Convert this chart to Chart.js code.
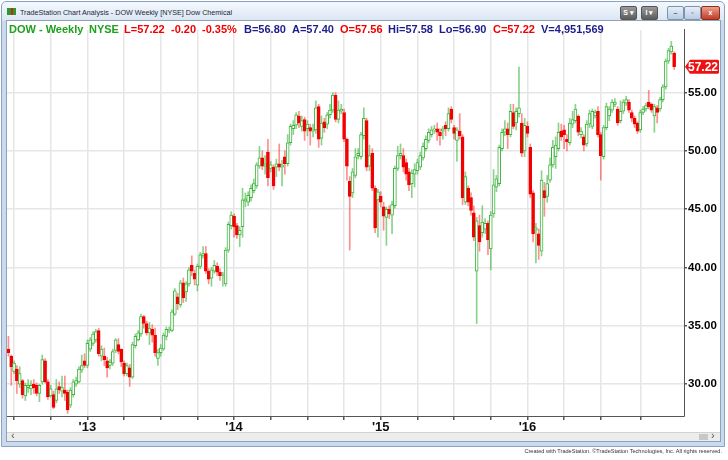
<!DOCTYPE html>
<html>
<head>
<meta charset="utf-8">
<script src="https://cdn.jsdelivr.net/npm/chart.js@4.4.1/dist/chart.umd.min.js"></script>
<style>
  html, body { margin: 0; padding: 0; background: #fff; }
  body { width: 728px; height: 460px; position: relative; overflow: hidden; font-family: "Liberation Sans", Arial, sans-serif; }
  #frame { position: absolute; left: 1px; top: 1px; width: 722px; height: 444px; border: 1px solid #8ba3c1; border-radius: 5px 5px 0 0;
           background: linear-gradient(#f4f8fd 0px, #dce7f4 18px, #c9daee 19px, #c9daee 100%); }
  #icon { position: absolute; left: 7px; top: 8px; width: 9px; height: 7px; background: linear-gradient(90deg, #2a9a2a 0 40%, #d02020 40% 70%, #2a9a2a 70%); }
  #title { position: absolute; left: 20px; top: 8px; font-size: 7.2px; color: #1b2636; white-space: nowrap; }
  .btn { position: absolute; top: 6px; height: 12px; border-radius: 2px; font-size: 7px; font-weight: bold; color: #fff; text-align: center; line-height: 12px; }
  .dark { background: linear-gradient(#9a9a9a, #5c5c5c); border: 1px solid #555; width: 15px; }
  .win { background: linear-gradient(#e6eef8, #b9cce3); border: 1px solid #7d93b0; width: 15px; color: #4a5a70; }
  .close { background: linear-gradient(#eba08f, #c43b25); border: 1px solid #8a3020; width: 17px; }
  #panel { position: absolute; left: 6px; top: 20px; width: 715px; height: 422px; background: #fff; border: 1px solid #8fa2b8; box-sizing: border-box; }
  #chartBox { position: absolute; left: 7px; top: 22px; width: 713px; height: 410px; }
  #header { position: absolute; top: 23px; left: 0; height: 13px; font-size: 11px; font-weight: bold; line-height: 13px; white-space: nowrap; }
  #header span { position: absolute; top: 0; }
  .g { color: #1fa01f; }
  .r { color: #f00000; }
  .n { color: #1c1c8c; }
  #scroll { position: absolute; left: 7px; top: 432px; width: 713px; height: 9px; background: #ececec; border-top: 1px solid #d2d2d2; box-sizing: border-box; }
  #scroll .arrow { position: absolute; top: -4px; font-size: 11px; color: #555; }
  #scroll .thumb { position: absolute; left: 692px; top: 1px; width: 9px; height: 6px; background: #c8c8c8; }
  #footer { position: absolute; right: 6px; top: 448px; font-size: 5.6px; color: #333; white-space: nowrap; }
</style>
</head>
<body>
<div id="frame"></div>
<div id="icon"></div>
<div id="title">TradeStation Chart Analysis - DOW Weekly [NYSE] Dow Chemical</div>
<div class="btn dark" style="left:620px">S ▾</div>
<div class="btn dark" style="left:641px">I ▾</div>
<div class="btn win" style="left:667px">–</div>
<div class="btn win" style="left:684px">▫</div>
<div class="btn close" style="left:701px">x</div>
<div id="panel"></div>
<div id="chartBox"><canvas id="candles"></canvas></div>
<div id="header">
  <span class="g" style="left:9px">DOW - Weekly</span>
  <span class="g" style="left:89px">NYSE</span>
  <span class="r" style="left:124px">L=57.22</span>
  <span class="r" style="left:171px">-0.20</span>
  <span class="r" style="left:202px">-0.35%</span>
  <span class="n" style="left:244px">B=56.80</span>
  <span class="n" style="left:292px">A=57.40</span>
  <span class="r" style="left:340px">O=57.56</span>
  <span class="n" style="left:388px">Hi=57.58</span>
  <span class="n" style="left:439px">Lo=56.90</span>
  <span class="r" style="left:493px">C=57.22</span>
  <span class="n" style="left:541px">V=4,951,569</span>
</div>
<div id="scroll"><span class="arrow" style="left:4px">‹</span><span class="thumb"></span><span class="arrow" style="left:704px">›</span></div>
<div id="footer">Created with TradeStation. ©TradeStation Technologies, Inc. All rights reserved.</div>

<script>
// weekly bars, first one is the week ending 22 Jun 2012
const open = [
  33.0, 32.4, 31.1, 31.3, 30.0, 30.3, 29.0, 29.7, 29.6, 30.0,
  29.9, 29.2, 30.2, 32.0, 30.2, 29.0, 29.1, 28.6, 29.8, 29.4,
  29.5, 29.3, 28.2, 29.1, 30.0, 30.2, 31.2, 32.0, 31.6, 33.0,
  33.5, 33.8, 34.6, 32.4, 32.4, 32.0, 31.6, 31.8, 32.9, 33.4,
  33.0, 31.8, 30.9, 31.4, 30.6, 33.3, 33.8, 34.3, 35.8, 35.2,
  34.4, 34.7, 34.2, 32.2, 32.7, 33.0, 34.1, 34.6, 34.6, 36.0,
  37.5, 36.8, 38.7, 37.9, 38.6, 40.2, 39.5, 38.5, 40.1, 41.0,
  41.2, 39.7, 39.1, 39.7, 40.1, 39.6, 39.3, 38.6, 41.5, 43.6,
  44.4, 43.6, 42.8, 43.5, 45.7, 45.6, 46.0, 46.6, 47.0, 48.7,
  49.4, 48.7, 49.9, 48.5, 48.6, 48.6, 48.9, 48.6, 49.5, 48.9,
  50.7, 51.9, 52.2, 53.0, 52.1, 52.7, 51.9, 52.0, 51.7, 51.8,
  53.8, 51.1, 52.5, 52.3, 53.1, 53.5, 54.8, 52.7, 53.4, 53.3,
  51.0, 47.4, 46.4, 47.9, 49.6, 49.5, 51.3, 52.6, 48.7, 49.8,
  46.8, 45.8, 46.1, 45.2, 44.3, 45.0, 44.5, 45.3, 48.5, 49.6,
  49.6, 49.0, 48.2, 47.2, 48.0, 48.3, 48.6, 49.4, 50.2, 50.9,
  51.4, 51.8, 51.9, 51.6, 51.7, 52.2, 51.9, 53.6, 52.0, 50.9,
  51.7, 51.2, 45.6, 46.8, 46.0, 44.7, 39.7, 43.6, 43.0, 43.3,
  43.8, 41.6, 44.6, 46.9, 47.2, 50.2, 51.6, 51.9, 51.4, 53.3,
  52.4, 53.2, 52.4, 50.0, 52.1, 50.3, 46.4, 43.2, 42.9, 41.4,
  46.6, 46.1, 47.5, 48.8, 49.5, 50.2, 51.7, 51.8, 51.0, 50.7,
  52.3, 52.6, 53.0, 51.4, 51.2, 50.6, 52.3, 52.1, 53.0, 53.4,
  51.4, 49.5, 52.0, 53.0, 53.5, 54.0, 53.6, 52.6, 53.4, 54.1,
  54.2, 53.3, 52.8, 52.4, 51.8, 53.3, 53.6, 54.2, 54.0, 53.0,
  53.7, 53.6, 54.4, 55.5, 57.7, 58.5, 58.4
];
const high = [
  34.1, 32.5, 32.0, 31.6, 31.5, 30.4, 30.1, 30.4, 30.3, 30.4,
  30.1, 30.0, 32.5, 32.2, 30.4, 29.9, 29.4, 30.4, 30.2, 30.7,
  30.7, 29.5, 29.7, 30.4, 30.6, 31.5, 32.5, 32.6, 33.8, 34.0,
  34.5, 34.7, 34.8, 33.3, 33.1, 32.3, 32.1, 33.0, 33.9, 33.9,
  33.0, 32.0, 31.8, 31.7, 33.6, 34.3, 34.6, 36.0, 35.9, 35.4,
  35.3, 35.1, 34.8, 33.0, 33.4, 34.4, 34.9, 34.9, 36.4, 38.2,
  37.8, 38.9, 39.1, 38.8, 40.0, 41.0, 39.8, 40.3, 41.3, 41.8,
  41.8, 39.9, 40.0, 40.6, 40.4, 39.9, 39.6, 41.7, 43.9, 44.8,
  44.6, 43.8, 43.5, 46.8, 46.4, 46.5, 47.1, 47.6, 49.0, 50.4,
  50.0, 49.6, 51.0, 49.1, 48.8, 49.3, 50.6, 49.2, 50.0, 51.4,
  52.3, 52.6, 53.3, 53.4, 53.0, 52.9, 52.6, 52.3, 52.3, 54.3,
  54.0, 53.0, 52.8, 53.3, 54.0, 55.0, 55.0, 54.3, 54.0, 53.6,
  51.1, 47.8, 48.5, 50.2, 50.2, 51.6, 53.7, 52.8, 50.5, 50.2,
  47.0, 46.7, 46.5, 45.6, 45.2, 45.3, 45.7, 48.7, 50.4, 50.6,
  50.2, 49.3, 48.5, 48.4, 48.9, 49.3, 49.9, 50.7, 51.3, 51.9,
  52.1, 52.2, 52.4, 51.9, 52.1, 52.5, 53.7, 53.8, 52.2, 52.0,
  53.2, 51.4, 48.2, 47.0, 46.4, 45.3, 44.3, 44.5, 45.3, 44.2,
  44.0, 44.8, 48.4, 47.9, 50.5, 51.9, 52.6, 52.4, 54.0, 54.0,
  53.7, 57.2, 53.2, 52.8, 52.5, 50.6, 46.6, 43.8, 43.3, 48.3,
  47.3, 47.9, 49.4, 50.9, 51.2, 52.4, 52.3, 52.2, 51.4, 52.8,
  53.4, 54.0, 53.1, 52.0, 51.4, 52.6, 53.5, 53.6, 53.5, 53.8,
  51.6, 52.2, 54.1, 53.8, 54.4, 54.5, 53.8, 54.3, 54.4, 54.7,
  54.4, 53.5, 53.0, 52.5, 53.5, 53.8, 54.1, 55.2, 54.1, 54.0,
  53.9, 54.6, 55.7, 57.9, 58.8, 59.4, 58.5
];
const low = [
  32.4, 29.9, 30.9, 29.2, 29.7, 28.8, 28.6, 29.3, 29.1, 29.2,
  29.0, 28.5, 30.0, 30.1, 28.7, 28.9, 27.9, 28.4, 29.2, 28.9,
  28.6, 27.5, 28.0, 28.9, 29.8, 30.1, 31.0, 31.4, 31.4, 32.8,
  33.3, 33.6, 32.4, 32.0, 31.6, 30.6, 31.3, 31.6, 32.7, 32.6,
  31.5, 30.7, 30.7, 29.8, 30.5, 33.1, 33.7, 34.1, 34.8, 34.2,
  33.4, 33.6, 32.4, 31.6, 32.4, 32.9, 33.8, 34.4, 34.5, 35.9,
  36.4, 36.6, 37.0, 37.1, 38.4, 39.3, 38.5, 38.0, 39.9, 40.8,
  39.5, 38.6, 38.4, 39.5, 39.3, 38.9, 38.4, 38.4, 41.3, 43.3,
  42.6, 42.5, 41.8, 42.6, 45.2, 45.3, 45.7, 46.4, 46.8, 48.5,
  48.4, 48.0, 47.0, 48.2, 46.7, 47.8, 48.3, 47.0, 48.0, 48.7,
  50.5, 51.4, 51.9, 52.0, 51.7, 50.9, 51.3, 50.5, 51.2, 51.5,
  50.3, 50.5, 51.6, 51.9, 52.8, 53.3, 52.5, 52.4, 53.2, 50.8,
  47.5, 41.5, 46.0, 47.7, 49.3, 49.3, 51.0, 48.3, 48.3, 46.6,
  43.0, 42.6, 45.2, 43.2, 41.9, 44.2, 42.9, 45.1, 48.3, 49.3,
  48.2, 47.5, 46.6, 46.0, 46.9, 48.0, 48.4, 49.2, 50.0, 50.7,
  51.2, 51.5, 50.9, 50.5, 51.0, 51.3, 51.7, 52.4, 51.0, 49.1,
  51.0, 45.4, 45.4, 45.3, 44.5, 42.3, 35.2, 41.4, 42.6, 42.9,
  41.1, 39.8, 44.3, 46.5, 47.0, 50.0, 51.3, 50.2, 51.2, 51.9,
  51.8, 52.9, 49.5, 49.5, 51.2, 46.0, 42.2, 40.4, 40.7, 41.0,
  44.4, 45.6, 47.3, 48.6, 48.5, 50.0, 50.9, 50.2, 50.0, 50.5,
  52.0, 52.4, 51.3, 51.1, 50.0, 50.4, 52.0, 51.9, 52.8, 51.2,
  47.5, 49.3, 51.8, 52.6, 53.3, 53.8, 52.2, 52.4, 53.2, 53.9,
  53.3, 52.5, 52.0, 51.5, 51.6, 53.1, 53.4, 53.6, 53.3, 51.6,
  52.4, 53.4, 54.2, 55.3, 57.5, 58.3, 57.0
];
const close = [
  32.7, 31.5, 31.8, 30.3, 30.9, 29.1, 29.9, 29.9, 29.9, 29.7,
  29.2, 29.9, 32.1, 30.2, 28.9, 29.6, 28.0, 29.6, 29.5, 29.7,
  29.2, 27.8, 29.5, 30.2, 30.3, 31.3, 31.6, 31.6, 33.5, 33.8,
  34.3, 34.5, 32.6, 33.0, 32.1, 31.4, 31.9, 32.8, 33.8, 32.8,
  31.9, 30.9, 31.6, 30.6, 33.4, 34.1, 34.4, 35.8, 35.2, 34.4,
  34.8, 34.2, 32.7, 32.7, 33.1, 34.2, 34.7, 34.7, 36.2, 38.0,
  36.9, 38.7, 37.4, 38.6, 39.8, 39.7, 39.0, 40.1, 41.1, 41.2,
  39.7, 39.0, 39.8, 40.2, 39.6, 39.3, 39.35, 41.5, 43.7, 44.5,
  43.5, 42.8, 43.2, 45.8, 45.9, 46.2, 46.8, 47.2, 48.8, 49.4,
  48.7, 48.9, 47.7, 48.8, 47.0, 48.9, 48.6, 48.8, 48.9, 50.7,
  52.1, 52.2, 53.1, 52.4, 52.6, 51.7, 52.3, 51.7, 51.8, 53.7,
  51.0, 52.4, 52.0, 53.1, 53.5, 54.8, 52.7, 53.5, 53.6, 51.0,
  48.7, 46.1, 48.2, 49.5, 49.8, 51.4, 52.8, 48.6, 49.6, 46.8,
  43.4, 46.5, 45.6, 44.4, 45.0, 44.6, 45.4, 48.5, 49.6, 49.8,
  48.6, 48.0, 47.1, 48.1, 48.4, 49.0, 49.6, 50.4, 51.0, 51.6,
  51.8, 51.9, 51.6, 51.3, 51.9, 51.9, 53.2, 52.7, 51.5, 51.8,
  51.3, 46.0, 47.8, 45.6, 44.9, 42.6, 44.0, 42.2, 43.9, 43.8,
  42.4, 44.5, 47.1, 47.6, 50.3, 51.6, 51.9, 51.4, 53.4, 52.1,
  53.4, 53.7, 49.8, 52.2, 51.5, 46.3, 42.9, 43.4, 41.9, 47.5,
  46.0, 47.2, 48.8, 50.3, 50.5, 51.6, 51.2, 51.4, 50.8, 52.4,
  52.7, 53.6, 51.6, 51.7, 50.5, 52.3, 53.2, 53.4, 53.3, 51.4,
  49.6, 52.0, 53.8, 53.6, 54.2, 54.2, 52.4, 53.4, 54.2, 54.4,
  53.5, 52.8, 52.3, 51.7, 53.3, 53.6, 53.9, 53.8, 53.5, 53.8,
  53.3, 54.4, 55.5, 57.7, 58.6, 59.0, 57.22
];
const yTickValues = [30, 35, 40, 45, 50, 55];

// categories: one slot per week, a few empty slots on the right
const firstWeek = Date.UTC(2012, 5, 22);
const slotCount = 240;
const weeks = [];
for (let i = 0; i < slotCount; i++) {
    weeks.push(new Date(firstWeek + i * 7 * 86400000));
}
const labels = weeks.map(d => d.toISOString().slice(0, 10));

// only mark periods that hold a bar
function isYearStart(i) {
    return i > 0 && i < close.length && weeks[i].getUTCFullYear() !== weeks[i - 1].getUTCFullYear();
}
function isQuarterStart(i) {
    return i > 0 && i < close.length && Math.floor(weeks[i].getUTCMonth() / 3) !== Math.floor(weeks[i - 1].getUTCMonth() / 3);
}

const upLine = '#3cb43c';
const upWick = 'rgba(60, 180, 60, 0.6)';
const downFill = '#f20000';
const downWick = 'rgba(255, 30, 30, 0.5)';

const isUp = close.map((c, i) => c >= open[i]);

// red box with the last price on the axis
const lastPriceTag = {
    id: 'lastPriceTag',
    afterDraw(chart) {
        const ctx = chart.ctx;
        const last = close[close.length - 1];
        const y = chart.scales.y.getPixelForValue(last);
        const x = chart.chartArea.right;
        ctx.save();
        ctx.fillStyle = '#ee1111';
        ctx.beginPath();
        ctx.moveTo(x + 1, y);
        ctx.lineTo(x + 6, y - 7);
        ctx.lineTo(x + 34, y - 7);
        ctx.lineTo(x + 35, y - 6);
        ctx.lineTo(x + 35, y + 6);
        ctx.lineTo(x + 34, y + 7);
        ctx.lineTo(x + 6, y + 7);
        ctx.closePath();
        ctx.fill();
        ctx.fillStyle = '#fff';
        ctx.font = 'bold 12px "Liberation Sans", Arial, sans-serif';
        ctx.textBaseline = 'middle';
        ctx.fillText(last.toFixed(2), x + 4, y + 1);
        ctx.restore();
    }
};

const config = {
    type: 'bar',
    data: {
        labels: labels,
        datasets: [
            {
                label: 'Body',
                data: open.map((o, i) => [o, close[i]]),
                backgroundColor: isUp.map(u => u ? '#ffffff' : downFill),
                borderColor: isUp.map(u => u ? upLine : downFill),
                borderWidth: 1,
                borderSkipped: false,
                barThickness: 3,
                minBarLength: 1,
                grouped: false,
                order: 0
            },
            {
                label: 'Range',
                data: low.map((l, i) => [l, high[i]]),
                backgroundColor: isUp.map(u => u ? upWick : downWick),
                borderWidth: 0,
                barThickness: 1,
                grouped: false,
                order: 1
            }
        ]
    },
    options: {
        responsive: true,
        maintainAspectRatio: false,
        animation: false,
        events: [],
        layout: { padding: 0 },
        plugins: {
            legend: { display: false },
            tooltip: { enabled: false }
        },
        scales: {
            x: {
                type: 'category',
                offset: true,
                grid: {
                    offset: false,
                    color: ctx => isQuarterStart(ctx.index) ? '#e6e6e6' : 'rgba(0,0,0,0)',
                    lineWidth: 1.5,
                    tickLength: 4,
                    tickColor: ctx => isQuarterStart(ctx.index) ? '#555' : 'rgba(0,0,0,0)'
                },
                border: { color: '#555', width: 1 },
                ticks: {
                    autoSkip: false,
                    maxRotation: 0,
                    minRotation: 0,
                    padding: 0,
                    color: '#111',
                    font: { family: '"Liberation Sans", Arial, sans-serif', size: 13, weight: 'bold' },
                    callback: (value, index) => isYearStart(index) ? "'" + String(weeks[index].getUTCFullYear()).slice(2) : ''
                },
                afterFit: scale => { scale.height = 16; }
            },
            y: {
                position: 'right',
                min: 27.27,
                max: 60.38,
                afterBuildTicks: scale => { scale.ticks = yTickValues.map(v => ({ value: v })); },
                grid: {
                    color: '#e6e6e6',
                    lineWidth: 1.5,
                    tickLength: 3,
                    tickColor: '#555'
                },
                border: { color: '#555', width: 1 },
                ticks: {
                    autoSkip: false,
                    padding: 1,
                    color: '#000',
                    font: { family: '"Liberation Sans", Arial, sans-serif', size: 11.5, weight: 'bold' },
                    callback: value => Number(value).toFixed(2)
                },
                afterFit: scale => { scale.width = 36; }
            }
        }
    },
    plugins: [lastPriceTag]
};

const dowChart = new Chart(document.getElementById('candles'), config);
</script>
</body>
</html>
